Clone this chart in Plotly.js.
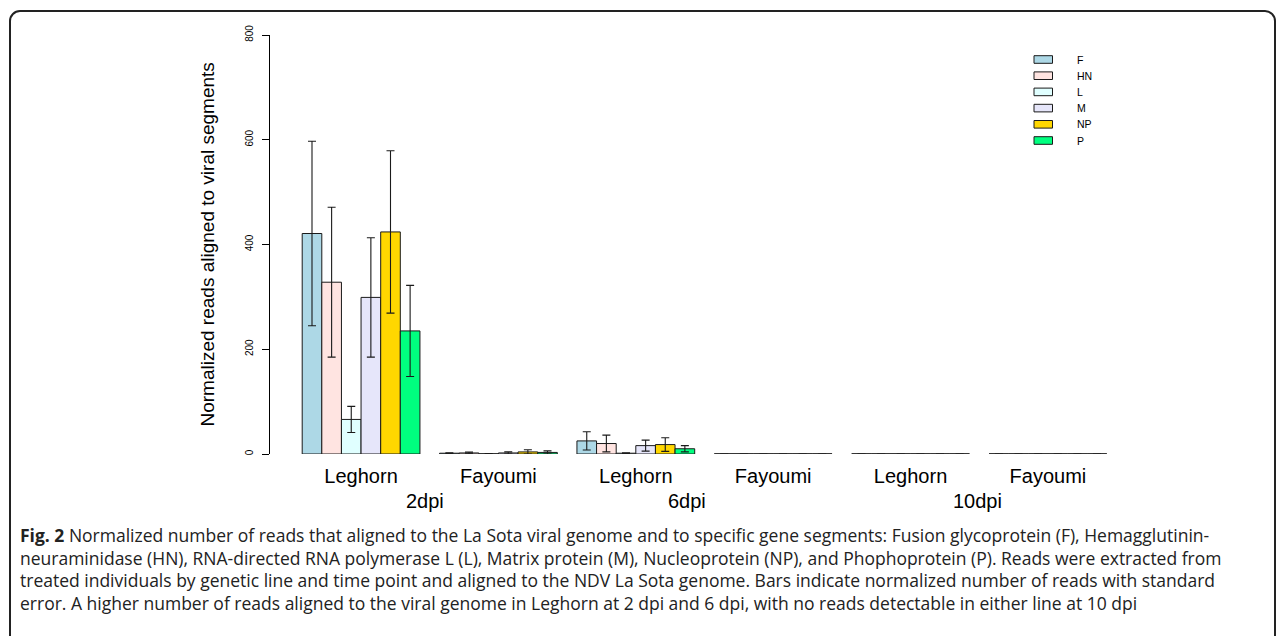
<!DOCTYPE html>
<html>
<head>
<meta charset="utf-8">
<script src="https://cdn.plot.ly/plotly-3.0.1.min.js"></script>
<style>
  html, body { margin:0; padding:0; background:#fff; overflow:hidden; }
  #chart { position:absolute; left:0; top:0; width:1284px; height:636px; }
  #frame { position:absolute; left:9px; top:10px; width:1263px; height:700px;
           border:2px solid #222; border-radius:11px; pointer-events:none; }
</style>
</head>
<body>
<div id="chart"></div>
<div id="frame"></div>
<script>
// ---- data ----
const groups = ['Leghorn', 'Fayoumi', 'Leghorn', 'Fayoumi', 'Leghorn', 'Fayoumi'];
const timepoints = ['2dpi', '6dpi', '10dpi'];
const timepointPos = [7.25, 20.6, 35.4];
const series = ['F', 'HN', 'L', 'M', 'NP', 'P'];
const seriesColors = ['#ADD8E6', '#FFE4E1', '#E0FFFF', '#E6E6FA', '#FFD700', '#00FF7F'];

const F_vals  = [421, 1.5, 25, 0, 0, 0];
const HN_vals = [328, 2, 20, 0, 0, 0];
const L_vals  = [66, 0.5, 1.5, 0, 0, 0];
const M_vals  = [299, 2, 16, 0, 0, 0];
const NP_vals = [424, 4, 18, 0, 0, 0];
const P_vals  = [235, 3, 10, 0, 0, 0];

const F_se  = [176, 1, 17.5, 0, 0, 0];
const HN_se = [143, 1.5, 16, 0, 0, 0];
const L_se  = [25, 0.5, 1, 0, 0, 0];
const M_se  = [114, 2, 10.5, 0, 0, 0];
const NP_se = [155, 4, 13, 0, 0, 0];
const P_se  = [87, 3, 6, 0, 0, 0];

const yTicks = [0, 200, 400, 600, 800];
const yTitle = 'Normalized reads aligned to viral segments';
const captionLines = [
  '<b>Fig. 2</b> Normalized number of reads that aligned to the La Sota viral genome and to specific gene segments: Fusion glycoprotein (F), Hemagglutinin-',
  'neuraminidase (HN), RNA-directed RNA polymerase L (L), Matrix protein (M), Nucleoprotein (NP), and Phophoprotein (P). Reads were extracted from',
  'treated individuals by genetic line and time point and aligned to the NDV La Sota genome. Bars indicate normalized number of reads with standard',
  'error. A higher number of reads aligned to the viral genome in Leghorn at 2 dpi and 6 dpi, with no reads detectable in either line at 10 dpi'
];

const allVals = [F_vals, HN_vals, L_vals, M_vals, NP_vals, P_vals];
const allSe = [F_se, HN_se, L_se, M_se, NP_se, P_se];

// ---- layout geometry (R barplot style: bar width 1, one-bar gap between groups) ----
const W = 1284, H = 636;
const M = { l: 270, r: 145, t: 35, b: 182 };
const PW = W - M.l - M.r, PH = H - M.t - M.b;
const px2x = px => (px - M.l) / PW;
const py2y = py => (H - M.b - py) / PH;
const FONT = 'Liberation Sans, Arial, Helvetica, sans-serif';
const INK = '#1a1a1a';

const barX = (g, s) => g * (series.length + 1) + s + 1.5;

const traces = [];
series.forEach((name, s) => {
  const xs = groups.map((_, g) => barX(g, s));
  traces.push({
    type: 'bar', name: name, x: xs, y: allVals[s], width: 1,
    marker: { color: seriesColors[s], line: { color: INK, width: 1 } },
    error_y: { type: 'data', array: allSe[s].map(v => v > 0 ? v : null), visible: true,
               color: INK, thickness: 1.1, width: 4 },
    cliponaxis: false, showlegend: false, hoverinfo: 'x+y+name'
  });
});
// outline of zero-height bars (drawn as a flat line, as in the reference)
const zx = [], zy = [];
series.forEach((name, s) => {
  groups.forEach((_, g) => {
    if (allVals[s][g] === 0) {
      const c = barX(g, s);
      zx.push(c - 0.5, c + 0.5, null); zy.push(0, 0, null);
    }
  });
});
traces.push({ type: 'scatter', mode: 'lines', x: zx, y: zy, connectgaps: false,
  line: { color: INK, width: 1 }, cliponaxis: false, showlegend: false, hoverinfo: 'skip' });

const xStart = 1, xEnd = groups.length * (series.length + 1);
const pad = 0.04 * (xEnd - xStart);
const annotations = [];
const shapes = [];

// timepoint labels
timepoints.forEach((t, i) => {
  annotations.push({ text: t, xref: 'x', yref: 'paper', x: timepointPos[i], y: py2y(501),
    xanchor: 'center', yanchor: 'middle', showarrow: false,
    font: { family: FONT, size: 20, color: '#000' } });
});
// y title
annotations.push({ text: yTitle, xref: 'paper', yref: 'paper', x: px2x(207), y: 0.5,
  xanchor: 'center', yanchor: 'middle', textangle: -90, showarrow: false,
  font: { family: FONT, size: 19, color: '#000' } });
// legend (R-style wide boxes)
series.forEach((name, s) => {
  const cy = 59.5 + s * 16.2;
  shapes.push({ type: 'rect', xref: 'paper', yref: 'paper',
    x0: px2x(1034), x1: px2x(1052.5), y0: py2y(cy - 3.8), y1: py2y(cy + 3.8),
    fillcolor: seriesColors[s], line: { color: INK, width: 1 } });
  annotations.push({ text: name, xref: 'paper', yref: 'paper', x: px2x(1075), y: py2y(cy),
    xanchor: 'left', yanchor: 'middle', showarrow: false,
    font: { family: FONT, size: 10.5, color: '#000' } });
});
// caption
captionLines.forEach((line, i) => {
  annotations.push({ text: line, xref: 'paper', yref: 'paper', x: px2x(18), y: py2y(535 + i * 22.5),
    xanchor: 'left', yanchor: 'middle', showarrow: false, align: 'left',
    font: { family: 'Open Sans, Noto Sans, sans-serif', size: 17.5, color: '#222' } });
});

const layout = {
  width: W, height: H, margin: { l: M.l, r: M.r, t: M.t, b: M.b, pad: 0 },
  paper_bgcolor: '#fff', plot_bgcolor: '#fff', barmode: 'overlay',
  showlegend: false,
  font: { family: FONT, color: '#000' },
  xaxis: { range: [xStart - pad, xEnd + pad], tickmode: 'array',
    tickvals: groups.map((_, g) => g * (series.length + 1) + 1 + series.length / 2),
    ticktext: groups, ticks: '', showline: false, showgrid: false, zeroline: false,
    tickfont: { family: FONT, size: 20, color: '#000' }, ticklabelstandoff: 8, fixedrange: true },
  yaxis: { range: [0, 800], tickmode: 'array', tickvals: yTicks, ticktext: yTicks.map(String),
    ticks: 'outside', ticklen: 7, tickwidth: 1, tickcolor: '#000', showline: true,
    linecolor: '#000', linewidth: 1, showgrid: false, zeroline: false, tickangle: -90,
    tickfont: { family: FONT, size: 10, color: '#000' }, ticklabelstandoff: 5, fixedrange: true },
  annotations: annotations, shapes: shapes
};

Plotly.newPlot('chart', traces, layout, { displayModeBar: false, staticPlot: true });
</script>
</body>
</html>
